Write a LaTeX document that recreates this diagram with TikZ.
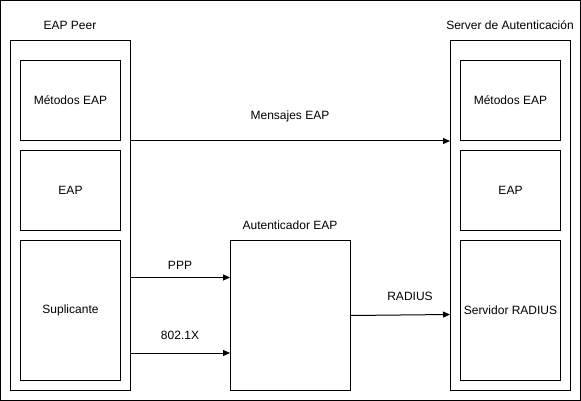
\documentclass[tikz,border=0pt]{standalone}
\usepackage{fontspec}
\setmainfont{Liberation Sans}
\usetikzlibrary{arrows.meta}
\begin{document}
\begin{tikzpicture}[x=1pt,y=-1pt,
  box/.style={draw=black,line width=1pt,minimum width=#1,anchor=north west,inner sep=0pt},
  lbl/.style={font=\fontsize{12}{14}\selectfont},
  arr/.style={draw=black,line width=1pt,-{Triangle[length=7pt,width=6pt]}}]
\useasboundingbox (0,0) rectangle (581,401);
\draw[line width=1pt] (0.5,0.5) rectangle (580.5,400.5);
% peer
\node[box=120pt,minimum height=350pt] (peer) at (10,40) {};
\node[box=100pt,minimum height=80pt] (pm) at (20,60) {};
\node[lbl] (pmt) at (pm.center) {Métodos EAP};
\node[box=100pt,minimum height=80pt] (pe) at (20,150) {};
\node[lbl] (pet) at (pe.center) {EAP};
\node[box=100pt,minimum height=140pt] (ps) at (20,240) {};
\node[lbl] (pst) at (ps.center) {Suplicante};
\node[lbl] (peerl) at (70,25) {EAP Peer};
% server
\node[box=120pt,minimum height=350pt] (srv) at (450,40) {};
\node[box=100pt,minimum height=80pt] (sm) at (460,60) {};
\node[lbl] (smt) at (sm.center) {Métodos EAP};
\node[box=100pt,minimum height=80pt] (se) at (460,150) {};
\node[lbl] (set) at (se.center) {EAP};
\node[box=100pt,minimum height=140pt] (sr) at (460,240) {};
\node[lbl] (srt) at (sr.center) {Servidor RADIUS};
\node[lbl] (srvl) at (510,25) {Server de Autenticación};
% authenticator
\node[box=120pt,minimum height=150pt] (auth) at (230,240) {};
\node[lbl] (authl) at (290,225) {Autenticador EAP};
% arrows
\coordinate (m) at (0,141);
\draw[arr] (peer.east |- m) -- (srv.west |- m);
\node[lbl] (ml) at (290,116) {Mensajes EAP};
\coordinate (p) at (0,277.5);
\draw[arr] (peer.east |- p) -- (auth.west |- p);
\node[lbl] (pl) at (180,265) {PPP};
\coordinate (x) at (0,353);
\draw[arr] (peer.east |- x) -- (auth.west |- x);
\node[lbl] (xl) at (180,335) {802.1X};
\coordinate (r1) at (0,315.5);
\coordinate (r2) at (0,314.5);
\draw[arr] (auth.east |- r1) -- (srv.west |- r2);
\node[lbl] (rl) at (410,296) {RADIUS};
\end{tikzpicture}
\end{document}
